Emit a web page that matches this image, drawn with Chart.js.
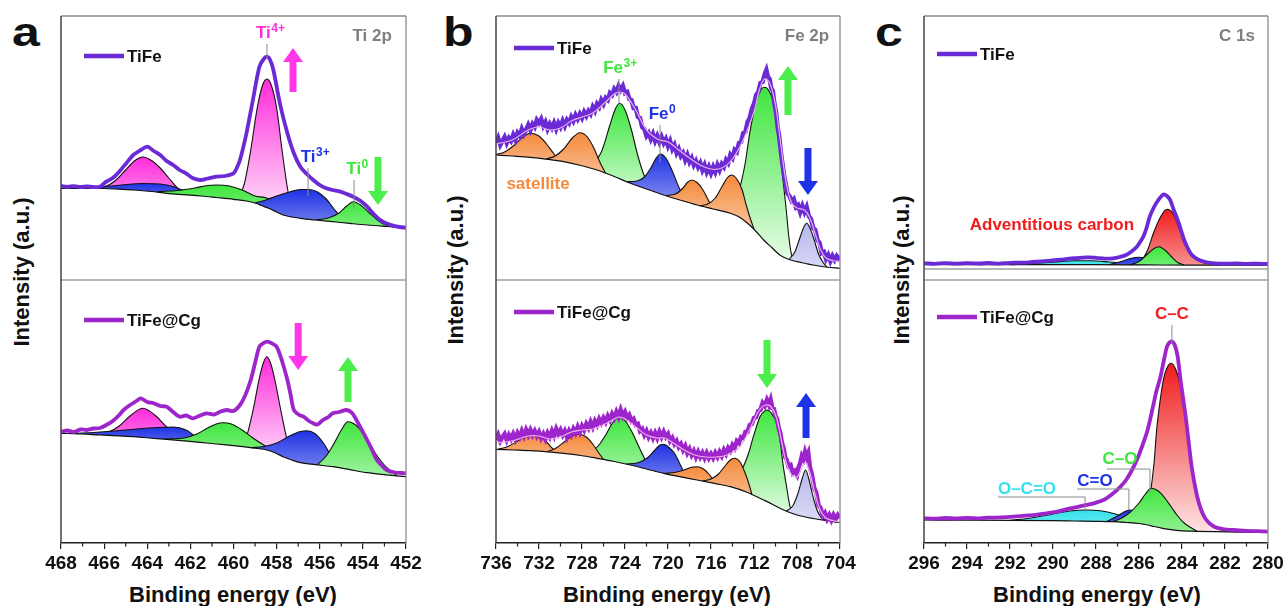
<!DOCTYPE html>
<html>
<head>
<meta charset="utf-8">
<script src="https://cdn.jsdelivr.net/npm/chart.js@4.4.0/dist/chart.umd.min.js"></script>
<style>
  body { margin: 0; width: 1285px; height: 606px; overflow: hidden; background: #fff; position: relative;
         font-family: "Liberation Sans", Arial, sans-serif; }
  canvas { position: absolute; }
  .txt { position: absolute; font-weight: bold; color: #111; white-space: nowrap; line-height: 1; }
  .ytitle { transform: translate(-50%, -50%) rotate(-90deg); font-size: 22px; }
  .xtitle { transform: translateX(-50%); font-size: 22px; }
  .letter { font-size: 40px; transform: scaleX(1.25); transform-origin: left top; }
</style>
</head>
<body>
<div class="txt letter" style="left:12px;top:12px">a</div>
<div class="txt letter" style="left:443px;top:12px">b</div>
<div class="txt letter" style="left:875px;top:12px">c</div>
<div class="txt ytitle" style="left:22px;top:272px">Intensity (a.u.)</div>
<div class="txt ytitle" style="left:456px;top:270px">Intensity (a.u.)</div>
<div class="txt ytitle" style="left:902px;top:270px">Intensity (a.u.)</div>
<div class="txt xtitle" style="left:233px;top:584px">Binding energy (eV)</div>
<div class="txt xtitle" style="left:667px;top:584px">Binding energy (eV)</div>
<div class="txt xtitle" style="left:1097px;top:584px">Binding energy (eV)</div>
<script>
// ---------- Ti 2p, TiFe (a.u.) ----------
const tiTopBg = [[468,91.7],[467,91.7],[466,91.5],[465.3,90.8],[464.6,90],[463.8,88.5],[463.1,86.7],[462.3,85.3],[461.5,84],[460.8,82.5],[460,80.7],[459.4,79],[459,77],[458.7,74.5],[458.4,72],[458,68],[457.7,65],[457.3,63],[456.9,61.7],[456.2,60],[455.4,58.3],[454.6,56.6],[453.8,55],[452.9,53.6],[452,52.3]];
const tiTopRaw = [[468,94],[467.7,93.2],[467.4,93.8],[467.1,93],[466.8,93.5],[466.5,93],[466.2,93.3],[465.9,98.3],[465.6,102],[465.3,108.3],[465,116],[464.65,125],[464.3,130],[464,133.3],[463.7,129],[463.4,125],[463.1,119],[462.8,115],[462.5,110],[462.2,106.7],[461.9,102],[461.55,100],[461.2,101.5],[460.8,103.3],[460.4,104],[460,106.7],[459.85,112],[459.7,120],[459.4,146.7],[459.1,180],[458.8,213.3],[458.6,221],[458.45,223.3],[458.3,220],[458.15,210],[457.85,176.7],[457.5,146.7],[457.2,126.7],[456.9,113.3],[456.6,106],[456.3,100],[456,95],[455.7,91.7],[455.4,90],[455.05,88.3],[454.75,86],[454.45,83.3],[454.1,79],[453.8,73.3],[453.5,66],[453.2,60],[452.9,56.5],[452.6,54.3],[452.3,53],[452,52.3]];
const tiTopP458 = [[459.8,80],[459.5,96],[459.2,130],[458.9,172],[458.65,195],[458.45,201],[458.25,195],[458,172],[457.75,130],[457.5,92],[457.25,64]];
const tiTopP464 = [[466.6,91.5],[466,93],[465.5,99],[465,110],[464.6,119],[464.2,123],[463.8,119.5],[463.4,112],[463,102],[462.6,92],[462.2,85.3]];
const tiTopP463 = [[467.2,91.7],[466.2,93],[465.2,95],[464.2,96.5],[463.4,96],[462.8,93.5],[462.3,89],[461.9,84.7]];
const tiTopP461 = [[463.5,88.5],[462.6,89.5],[461.8,92],[461.2,94.5],[460.8,95],[460.2,94],[459.6,90],[459,84],[458.45,82],[458,76],[457.6,68],[457.3,63]];
const tiTopP457 = [[459,77],[458.5,80],[458,84],[457.4,88],[456.9,90.5],[456.5,90.5],[456.1,88],[455.7,81],[455.3,70],[454.9,61],[454.5,56.4]];
const tiTopP454 = [[456.2,60],[455.6,62],[455.1,67],[454.75,74],[454.45,78.3],[454.1,75],[453.7,67],[453.3,59.5],[452.9,54.5],[452.5,53]];

// ---------- Ti 2p, TiFe@Cg ----------
const tiBotBg = [[468,109.7],[467,109],[466.2,108],[465.4,107.2],[464.65,106.3],[463.9,105],[463.1,103.7],[462.3,102.2],[461.55,100.7],[460.8,99],[460,97.3],[459.2,95.3],[458.45,93],[458,89.5],[457.7,86.3],[457.3,83],[456.9,80.3],[456.2,78.3],[455.4,76.3],[454.6,73.3],[453.8,70.3],[452.9,68.2],[452,66.3]];
const tiBotRaw = [[468,111.3],[467.7,112.5],[467.4,111],[467.1,113.5],[466.8,113],[466.5,114.5],[466.2,115],[465.9,118],[465.6,122],[465.3,128],[465.1,133],[464.8,138],[464.5,142],[464.3,144.7],[464,141],[463.7,139.7],[463.4,137],[463.1,136.3],[462.8,131],[462.5,126.3],[462.2,127.5],[461.9,124.7],[461.6,127],[461.25,129.7],[460.9,128.5],[460.6,131.5],[460.3,133],[460,132],[459.7,138],[459.45,148],[459.2,163],[459,180],[458.8,196.3],[458.6,200],[458.45,201.3],[458.25,200],[458,196.3],[457.75,182],[457.5,163],[457.35,148],[457.2,133],[456.95,128],[456.75,126.3],[456.5,122],[456.3,119.7],[456.1,118.5],[455.85,123],[455.6,126],[455.4,129.7],[455.1,131],[454.75,133],[454.5,130],[454.3,123],[454.05,113],[453.8,103],[453.55,92],[453.35,83],[453.1,77],[452.9,73],[452.5,70.5],[452.2,70],[452,69.7]];
const tiBotP458 = [[459.7,96],[459.4,106],[459.1,132],[458.8,165],[458.6,181],[458.45,186.3],[458.3,181],[458.1,165],[457.8,132],[457.5,102],[457.2,84]];
const tiBotP464 = [[466.4,108.2],[465.8,111],[465.3,117],[464.8,127],[464.2,134.7],[463.6,127],[463.1,116],[462.6,106],[462.2,102]];
const tiBotP463 = [[467.6,109.5],[466.5,110.5],[465.5,112],[464.5,114],[463.5,115.5],[462.8,116],[462.2,113],[461.8,107],[461.4,100.5]];
const tiBotP461 = [[463.2,104],[462.3,105],[461.7,109],[461.2,115],[460.8,119],[460.5,120.3],[460.1,119],[459.6,113],[459.1,105],[458.6,98],[458.1,91],[457.7,86.5]];
const tiBotP457 = [[459.2,95.3],[458.6,96.5],[458,100],[457.4,107],[456.9,111.5],[456.6,112.3],[456.2,109],[455.8,99],[455.5,88],[455.2,80],[454.9,74.5]];
const tiBotP454 = [[456.1,78.5],[455.7,87],[455.3,101],[455,113],[454.7,121.3],[454.4,119],[454,110],[453.6,96],[453.2,83],[452.8,73.5],[452.4,67.2]];

// ---------- Fe 2p, TiFe ----------
const feTopBg = [[736,125],[734.5,124],[732.8,122.7],[731.2,120.7],[729.7,118.3],[728.1,114.5],[726.6,110],[725,103.5],[723.5,96.7],[722,91],[720.4,85],[718.9,80],[717.3,75],[715.8,71],[714.2,66.7],[713.3,62.5],[712.6,56.7],[711.8,48.5],[711.1,40],[710.3,32],[709.6,25],[708.8,20.8],[708,18.3],[707.2,16.5],[706.5,15],[705.3,13],[704,11.7]];
const feTopRaw = [[736,136.7],[735.8,142],[735.6,135],[735.4,139],[735.2,143],[735,137],[734.8,142],[734.6,139],[734.4,145],[734.2,140],[734,147],[733.8,144],[733.6,151],[733.4,146],[733.2,150],[733,155],[732.8,150],[732.6,156],[732.4,153],[732.2,160],[732,157],[731.8,161],[731.6,154],[731.4,158],[731.2,151],[731,156],[730.8,152],[730.6,157],[730.4,151],[730.2,157],[730,153],[729.8,159],[729.6,154],[729.4,160],[729.2,157],[729,163],[728.8,159],[728.6,165],[728.4,161],[728.2,166],[728,162],[727.8,168],[727.6,164],[727.4,169],[727.2,166],[727,173],[726.8,169],[726.6,176],[726.4,173],[726.2,180],[726,176],[725.8,182],[725.6,180],[725.4,187],[725.2,185],[725,191],[724.8,188],[724.6,194],[724.4,190],[724.2,194],[724,187],[723.8,188],[723.6,181],[723.4,180],[723.2,172],[723,172],[722.8,163],[722.6,162],[722.4,153],[722.2,151],[722,144],[721.8,147],[721.6,141],[721.4,146],[721.2,139],[721,144],[720.8,138],[720.6,143],[720.4,137],[720.2,141],[720,134],[719.8,139],[719.6,131],[719.4,135],[719.2,127],[719,131],[718.8,124],[718.6,127],[718.4,120],[718.2,125],[718,118],[717.8,122],[717.6,115],[717.4,119],[717.2,113],[717,117],[716.8,110],[716.6,115],[716.4,108],[716.2,113],[716,107],[715.8,113],[715.6,108],[715.4,115],[715.2,110],[715,116],[714.8,113],[714.6,120],[714.4,117],[714.2,125],[714,122],[713.8,130],[713.6,128],[713.4,137],[713.2,138],[713,147],[712.8,148],[712.6,158],[712.4,162],[712.2,171],[712,176],[711.8,185],[711.6,188],[711.4,197],[711.2,198],[711,206],[710.85,210],[710.7,203],[710.55,201],[710.4,192],[710.25,189],[710.1,176],[709.95,168],[709.8,153],[709.65,143],[709.5,128],[709.35,116],[709.2,104],[709.05,96],[708.9,87],[708.7,84],[708.5,79],[708.3,81],[708.1,73],[707.9,75],[707.7,68],[707.5,74],[707.3,68],[707.1,73],[706.9,64],[706.7,61],[706.5,52],[706.3,50],[706.1,40],[705.9,37],[705.7,27],[705.5,28],[705.3,21],[705.1,25],[704.9,19],[704.7,24],[704.5,20],[704.3,24],[704,20]];
const feTopEnv = [[736,136],[734.5,140],[733,150],[732,153],[731,150],[730,152],[729,159],[728,163],[727,167],[726,176],[725,186],[724.5,188],[724,186],[723,170],[722,150],[721,141],[720,138],[719,130],[718,122],[717,115],[716,111],[715,112],[714,121],[713,140],[712,168],[711.5,190],[711,201],[710.5,196],[710,175],[709.5,135],[709,97],[708.5,77],[708,72],[707.3,70],[706.8,62],[706.3,46],[705.8,30],[705.3,22],[704.5,19],[704,18]];
const feTopP711 = [[715.6,70.5],[714.6,71],[713.8,78],[713.3,93],[712.8,118],[712.4,146.7],[711.75,180],[711.3,191],[711,192.7],[710.6,189],[710.2,178],[709.9,160],[709.6,130],[709.3,100],[709,70],[708.75,42],[708.5,25],[708.2,18.9]];
const feTopP724 = [[727.6,113],[726.9,117],[726.2,128],[725.4,155],[724.9,171],[724.5,176.7],[724,170],[723.4,150],[722.8,124],[722.2,104],[721.6,92],[721.2,88]];
const feTopP733 = [[736,125.5],[735.2,128],[734.4,134],[733.6,142],[732.8,146.7],[732,144],[731.3,136],[730.6,126],[730,118.8]];
const feTopP728 = [[731.3,121],[730.5,124],[729.7,131],[728.9,142],[728.2,147.3],[727.5,143],[726.9,132],[726.3,117],[725.8,106.7]];
const feTopP721 = [[723.8,98.3],[722.9,99],[722.2,103],[721.6,112],[721.1,122],[720.7,126],[720.2,122],[719.6,109],[719,93],[718.5,83],[718.1,77.5]];
const feTopP718 = [[720.2,84.5],[719.3,86],[718.6,92],[718.2,97.5],[717.8,100],[717.3,97.5],[716.8,91],[716.3,81],[715.9,73],[715.5,70.2]];
const feTopP714 = [[717,74.3],[716.3,76],[715.6,82],[715,93],[714.5,102],[714.1,105],[713.6,101],[713.1,90],[712.7,74],[712.3,60],[712,51]];
const feTopP707 = [[708.7,21],[708.2,28],[707.8,40],[707.4,52],[707.1,56.7],[706.8,52],[706.4,40],[706,26],[705.6,18],[705.2,12.9]];

// ---------- Fe 2p, TiFe@Cg ----------
const feBotBg = [[736,93.7],[734.4,93],[732.8,92.3],[731.2,91.2],[729.7,89.7],[728.1,87.5],[726.6,84.7],[725,81.5],[723.5,78],[722,74],[720.4,69.7],[718.9,66.3],[717.3,63],[715.8,59.8],[714.2,56.3],[712.6,50.5],[711.1,43],[710.3,38.8],[709.6,34.7],[708.8,31],[708,28],[706.5,24.5],[705,22],[704,20.3]];
const feBotRaw = [[736,103],[735.8,108],[735.6,102],[735.4,106],[735.2,109],[735,103],[734.8,108],[734.6,104],[734.4,109],[734.2,104],[734,110],[733.8,106],[733.6,112],[733.4,107],[733.2,113],[733,108],[732.8,113],[732.6,108],[732.4,112],[732.2,107],[732,111],[731.8,105],[731.6,109],[731.4,104],[731.2,110],[731,106],[730.8,112],[730.6,107],[730.4,114],[730.2,109],[730,113],[729.8,108],[729.6,112],[729.4,106],[729.2,112],[729,108],[728.8,114],[728.6,110],[728.4,116],[728.2,111],[728,117],[727.8,113],[727.6,119],[727.4,115],[727.2,121],[727,116],[726.8,122],[726.6,118],[726.4,124],[726.2,120],[726,125],[725.8,121],[725.6,127],[725.4,123],[725.2,129],[725,125],[724.8,131],[724.6,126],[724.4,133],[724.2,127],[724,131],[723.8,125],[723.6,128],[723.4,122],[723.2,124],[723,118],[722.8,119],[722.6,112],[722.4,114],[722.2,108],[722,112],[721.8,106],[721.6,110],[721.4,105],[721.2,110],[721,105],[720.8,111],[720.6,106],[720.4,111],[720.2,106],[720,109],[719.8,102],[719.6,105],[719.4,99],[719.2,102],[719,96],[718.8,99],[718.6,93],[718.4,97],[718.2,90],[718,94],[717.8,88],[717.6,92],[717.4,86],[717.2,91],[717,86],[716.8,90],[716.6,85],[716.4,90],[716.2,85],[716,89],[715.8,85],[715.6,90],[715.4,86],[715.2,91],[715,87],[714.8,93],[714.6,89],[714.4,95],[714.2,92],[714,98],[713.8,95],[713.6,102],[713.4,100],[713.2,106],[713,105],[712.8,111],[712.6,111],[712.4,118],[712.2,119],[712,125],[711.8,126],[711.6,132],[711.4,133],[711.2,140],[711,137],[710.8,143],[710.6,138],[710.45,143],[710.3,135],[710.15,134],[710,127],[709.85,124],[709.7,115],[709.55,110],[709.4,100],[709.25,95],[709.1,86],[708.95,83],[708.8,77],[708.6,78],[708.4,70],[708.2,72],[708,68],[707.85,76],[707.7,80],[707.55,87],[707.4,84],[707.25,91],[707.1,86],[706.95,90],[706.8,76],[706.6,68],[706.4,55],[706.2,50],[706,38],[705.8,35],[705.6,27],[705.4,30],[705.2,24],[705,28],[704.8,23],[704.6,28],[704.4,24],[704.2,28],[704,25]];
const feBotEnv = [[736,100],[734.5,102],[733,107],[732,107],[731,104],[730,106],[729,111],[728,113],[727,114],[726,118],[725,124],[724.5,126],[724,124],[723,116],[722,108],[721,105],[720.3,105],[719.5,100],[718.5,93],[717.5,88],[716.5,86],[715.5,86],[714.5,88],[713.5,94],[713,101],[712.2,118],[711.5,133],[710.9,138],[710.4,136],[709.9,125],[709.4,100],[709,80],[708.5,68],[708,66],[707.5,76],[707.2,80],[706.8,70],[706.3,48],[705.8,32],[705.3,25],[704.5,22],[704,21]];
const feBotP711 = [[715.4,59],[714.5,60],[713.8,65],[713,76.3],[712.5,90],[712.06,106.3],[711.44,126.3],[711,132],[710.75,133],[710.4,130],[709.9,119.7],[709.6,104],[709.27,76.3],[708.95,55],[708.65,36.3],[708.3,29]];
const feBotP724 = [[728.3,88],[727.3,90],[726.5,97],[725.8,108],[725.1,121],[724.5,126.3],[723.9,121],[723.3,110],[722.7,96],[722.1,83],[721.5,74],[721.1,71.6]];
const feBotP733 = [[735.8,93.8],[735,96],[734.2,100.5],[733.4,106],[732.7,108.7],[732,107],[731.3,101],[730.7,94],[730.2,90.2]];
const feBotP728 = [[731.2,91.5],[730.4,95],[729.6,101.5],[728.9,107],[728.3,108.7],[727.6,106],[727,99],[726.5,91],[726,83.5]];
const feBotP720 = [[723.9,79],[722.9,80],[722,84.5],[721.3,92],[720.8,97.5],[720.4,98.7],[719.9,95.5],[719.3,88],[718.8,77],[718.4,68.5],[718.1,64.6]];
const feBotP717 = [[720.3,69.6],[719.4,70.5],[718.5,73],[717.8,75.8],[717.3,76.3],[716.7,74],[716.2,69],[715.7,62],[715.3,59]];
const feBotP714 = [[716.8,62],[716,64],[715.3,69],[714.7,77],[714.2,83],[713.8,84.7],[713.3,81],[712.9,72],[712.5,60],[712.2,48.6]];
const feBotP707 = [[709,31.8],[708.4,37],[707.9,50],[707.5,65],[707.2,73],[706.9,64],[706.5,46],[706.1,32],[705.7,25],[705.2,22.3]];

// ---------- C 1s, TiFe ----------
const cTopBg = [[296,15.5],[292,15.4],[289,15.3],[286.5,15.2],[285,15],[283,14.9],[280,14.8]];
const cTopRaw = [[296,16.7],[295.5,16.2],[295,16.9],[294.5,16.3],[294,16.8],[293.4,16.5],[293,17],[292.5,16.4],[292,17.2],[291.5,17.3],[291.1,17.7],[290.6,18.6],[290.1,19.4],[289.5,20.7],[289,21.8],[288.4,22.7],[288,22.2],[287.6,21.4],[287.2,21.7],[286.9,23],[286.6,25],[286.35,28.5],[286.1,33.3],[285.95,38],[285.8,43.3],[285.65,52],[285.5,63.3],[285.3,73],[285.1,80],[284.95,84],[284.85,85.7],[284.7,84],[284.55,80],[284.4,71],[284.2,60],[284.05,50],[283.9,40],[283.75,32.5],[283.6,26.7],[283.4,22.5],[283.2,20],[282.9,18],[282.5,16.7],[282,16.3],[281.5,16.6],[281,16.1],[280.5,16.4],[280,16]];
const cTopOCO = [[292,15.4],[291,16.2],[290,17.8],[289,19.3],[288.2,19.2],[287.4,18],[286.7,16.6],[286,15.2]];
const cTopCdO = [[287.4,15.3],[286.9,18],[286.4,21.5],[286,22.7],[285.6,20.5],[285.3,17],[285,15.1]];
const cTopCC = [[286.3,15.3],[285.9,19],[285.6,30],[285.33,46.7],[285,63],[284.7,70.7],[284.4,66],[284.1,50],[283.8,35],[283.5,25],[283.2,19],[282.8,16.3],[282.3,15]];
const cTopCO = [[286.4,15.2],[286,18.5],[285.6,26],[285.3,31.5],[285.1,33.3],[284.8,30],[284.5,23.5],[284.2,17.5],[283.9,15.2]];

// ---------- C 1s, TiFe@Cg ----------
const cBotBg = [[296,23],[294,22.9],[292,22.7],[290,22.3],[289,22],[288,21.7],[287.2,21.3],[286.6,20.5],[286,19.5],[285.6,18],[285.3,16.5],[284.9,14.7],[284.5,13.3],[284.1,12.3],[283.3,11.7],[282.5,11.3],[281,10.9],[280,10.7]];
const cBotRaw = [[296,24.7],[295.5,24.3],[295,25],[294.5,24.5],[294,25.1],[293.4,24.7],[293,25.3],[292.4,25.6],[291.85,26.3],[291.3,27.3],[290.8,28.1],[290.3,29.7],[289.8,31.4],[289.2,34.7],[288.6,37.3],[288.1,39.7],[287.6,43.5],[287.2,49.7],[286.9,55.5],[286.6,63],[286.35,72],[286.1,83],[285.85,97],[285.6,113],[285.35,136.3],[285.2,151],[285,166.3],[284.85,182],[284.7,196.3],[284.58,200.5],[284.45,201.3],[284.32,197],[284.2,186.3],[284.05,160],[283.85,129.7],[283.7,103],[283.55,76.3],[283.35,52],[283.16,36.3],[282.9,24],[282.5,16.3],[282.1,14],[281.6,13],[281,12.2],[280.5,11.8],[280,11.3]];
const cBotOCO = [[292,22.7],[291,25],[290,29],[289.2,32],[288.5,33],[287.8,32.3],[287.1,29],[286.4,23.5],[285.8,18.8]];
const cBotCdO = [[287.5,21.4],[287,27],[286.7,31],[286.45,33],[286.1,31],[285.7,25],[285.3,19],[285,15.1]];
const cBotCC = [[286.4,20.2],[285.9,24],[285.6,33],[285.49,46.3],[285.3,80],[285.18,113],[285,145],[284.87,163],[284.7,175],[284.5,179.7],[284.3,174],[284.1,159.7],[283.95,138],[283.78,113],[283.62,87],[283.47,63],[283.3,45],[283.16,33],[282.9,23],[282.7,18],[282.4,14.5],[282.08,12.6],[281.5,11.1]];
const cBotCO = [[287.2,21.3],[286.8,25],[286.4,31],[286,40],[285.7,49],[285.43,54.7],[285.1,52],[284.8,45],[284.5,36],[284.2,27],[283.9,20],[283.6,15.5],[283.3,11.8]];

// ---------- colours ----------
const PINK = '#ff2bdc', BLUE = '#1e32e4', GREEN = '#3ee63e', ORANGE = '#f58a3c', RED = '#f01c1c',
      CYAN = '#34e2ec', LAV = '#b8b8ee', GRAY = '#7f7f7f';
const C_TIFE = '#6a2ad6', C_CG = '#9c26cb';

// ---------- annotations (x in eV, y in a.u.) ----------
const tiTopNotes = [
  {k: 'text', x: 458.3, y: 242, t: 'Ti', s: '4+', c: PINK},
  {k: 'lead', p: [[458.45, 236], [458.45, 222]]},
  {k: 'arrow', x: 457.24, y0: 188, y1: 232, c: '#ff36ea'},
  {k: 'text', x: 453.57, y: 239, t: 'Ti 2p', c: GRAY},
  {k: 'text', x: 456.22, y: 118, t: 'Ti', s: '3+', c: BLUE},
  {k: 'lead', p: [[456.54, 112], [456.54, 84]]},
  {k: 'text', x: 454.27, y: 106, t: 'Ti', s: '0', c: GREEN},
  {k: 'lead', p: [[454.41, 100], [454.41, 72]]},
  {k: 'arrow', x: 453.3, y0: 123, y1: 75, c: '#4cee4c'}
];
const tiBotNotes = [
  {k: 'arrow', x: 457.0, y0: 220, y1: 173, c: '#ff36ea'},
  {k: 'arrow', x: 454.69, y0: 141, y1: 186, c: '#4cee4c'}
];
const feTopNotes = [
  {k: 'text', x: 707.07, y: 239, t: 'Fe 2p', c: GRAY},
  {k: 'text', x: 724.47, y: 207, t: 'Fe', s: '3+', c: GREEN},
  {k: 'lead', p: [[724.56, 201], [724.56, 176]]},
  {k: 'text', x: 720.56, y: 161, t: 'Fe', s: '0', c: BLUE},
  {k: 'lead', p: [[720.74, 155], [720.74, 118]]},
  {k: 'text', x: 732.09, y: 91, t: 'satellite', c: ORANGE},
  {k: 'arrow', x: 708.84, y0: 165, y1: 214, c: '#4cee4c'},
  {k: 'arrow', x: 706.98, y0: 132, y1: 85, c: '#1e32e8'}
];
const feBotNotes = [
  {k: 'arrow', x: 710.79, y0: 203, y1: 155, c: '#4cee4c'},
  {k: 'arrow', x: 707.16, y0: 105, y1: 150, c: '#1e32e8'}
];
const cTopNotes = [
  {k: 'text', x: 281.44, y: 239, t: 'C 1s', c: GRAY},
  {k: 'text', x: 290.05, y: 50, t: 'Adventitious carbon', c: RED}
];
const cBotNotes = [
  {k: 'text', x: 284.47, y: 224, t: 'C\u2013C', c: RED},
  {k: 'lead', p: [[284.47, 218], [284.47, 200]]},
  {k: 'text', x: 286.88, y: 79, t: 'C\u2013O', c: GREEN},
  {k: 'lead', p: [[287.49, 74], [285.49, 74], [285.49, 50]]},
  {k: 'text', x: 288.05, y: 57, t: 'C=O', c: BLUE},
  {k: 'lead', p: [[288.88, 54], [286.47, 54], [286.47, 33]]},
  {k: 'text', x: 291.21, y: 49, t: 'O\u2013C=O', c: CYAN},
  {k: 'lead', p: [[292.56, 46], [288.51, 46], [288.51, 30]]}
];

// ---------- layout ----------
const FONT = '"Liberation Sans", Arial, sans-serif';
const TOP = 16, MID = 280, BOT = 543, PAD = 30, AXIS_H = 63;
const panels = [
  {left: 61, right: 406, min: 452, max: 468, step: 2, minor: 1, legX: 23},
  {left: 496, right: 840, min: 704, max: 736, step: 4, minor: 2, legX: 18},
  {left: 924, right: 1268, min: 280, max: 296, step: 2, minor: 1, legX: 13}
];

const pts = a => a.map(([x, y]) => ({x, y}));

function mix(hex, f) {
  const n = parseInt(hex.slice(1), 16);
  const r = n >> 16, g = (n >> 8) & 255, b = n & 255;
  const m = v => Math.round(v + (255 - v) * f);
  return `rgb(${m(r)},${m(g)},${m(b)})`;
}

function peakFill(hex) {
  return c => {
    const ch = c.chart;
    if (!ch.chartArea) return hex;
    const vals = c.dataset.data.map(p => p.y);
    const y0 = ch.scales.y.getPixelForValue(Math.max(...vals));
    const y1 = ch.scales.y.getPixelForValue(Math.min(...vals));
    const f = Math.min(0.88, 0.15 + (y1 - y0) / 150);
    const g = ch.ctx.createLinearGradient(0, y0, 0, y1 + 1);
    g.addColorStop(0, hex);
    g.addColorStop(1, mix(hex, f));
    return g;
  };
}

function drawLabel(ctx, px, py, t, s, color) {
  const size = 17, ss = 12;
  ctx.fillStyle = color;
  ctx.textBaseline = 'alphabetic';
  ctx.textAlign = 'left';
  ctx.font = `bold ${size}px ${FONT}`;
  const w1 = ctx.measureText(t).width;
  let w2 = 0;
  if (s) { ctx.font = `bold ${ss}px ${FONT}`; w2 = ctx.measureText(s).width; }
  const x0 = px - (w1 + w2) / 2;
  ctx.font = `bold ${size}px ${FONT}`;
  ctx.fillText(t, x0, py);
  if (s) { ctx.font = `bold ${ss}px ${FONT}`; ctx.fillText(s, x0 + w1 + 0.5, py - 6.5); }
}

function drawArrow(ctx, px, py0, py1, color) {
  const dir = Math.sign(py1 - py0), hl = 14, hw = 10, sw = 3.5;
  const base = py1 - dir * hl;
  ctx.fillStyle = color;
  ctx.beginPath();
  ctx.moveTo(px - sw, py0); ctx.lineTo(px + sw, py0); ctx.lineTo(px + sw, base);
  ctx.lineTo(px + hw, base); ctx.lineTo(px, py1); ctx.lineTo(px - hw, base);
  ctx.lineTo(px - sw, base); ctx.closePath(); ctx.fill();
}

function decor(cfg) {
  return {
    id: 'decor',
    afterDraw(chart) {
      const {ctx, chartArea: a, scales: {x, y}} = chart;
      ctx.save();
      // frame
      ctx.lineWidth = 1.3;
      ctx.strokeStyle = '#8c8c8c';
      ctx.beginPath();
      ctx.moveTo(a.right, a.top); ctx.lineTo(a.right, a.bottom);
      if (cfg.isTop) { ctx.moveTo(a.left, a.top); ctx.lineTo(a.right, a.top); }
      ctx.stroke();
      ctx.strokeStyle = '#a0a0a0';
      ctx.beginPath();
      if (cfg.isTop) { ctx.moveTo(a.left, a.bottom); ctx.lineTo(a.right, a.bottom); }
      if (cfg.extraLine) { ctx.moveTo(a.left, a.bottom - cfg.extraLine); ctx.lineTo(a.right, a.bottom - cfg.extraLine); }
      ctx.stroke();
      ctx.strokeStyle = '#444';
      ctx.lineWidth = 1.5;
      ctx.beginPath(); ctx.moveTo(a.left, a.top); ctx.lineTo(a.left, a.bottom); ctx.stroke();
      // minor ticks
      if (!cfg.isTop) {
        ctx.strokeStyle = '#222'; ctx.lineWidth = 1.2;
        ctx.beginPath();
        for (let v = cfg.panel.min + cfg.panel.minor; v < cfg.panel.max; v += cfg.panel.step) {
          const px = x.getPixelForValue(v);
          ctx.moveTo(px, a.bottom); ctx.lineTo(px, a.bottom + 3.5);
        }
        ctx.stroke();
      }
      // notes
      cfg.notes.forEach(n => {
        if (n.k === 'text') drawLabel(ctx, x.getPixelForValue(n.x), y.getPixelForValue(n.y), n.t, n.s, n.c);
        else if (n.k === 'arrow') drawArrow(ctx, x.getPixelForValue(n.x), y.getPixelForValue(n.y0), y.getPixelForValue(n.y1), n.c);
        else if (n.k === 'lead') {
          ctx.strokeStyle = '#8a8a8a'; ctx.lineWidth = 1;
          ctx.beginPath();
          n.p.forEach(([vx, vy], i) => {
            const px = x.getPixelForValue(vx), py = y.getPixelForValue(vy);
            i ? ctx.lineTo(px, py) : ctx.moveTo(px, py);
          });
          ctx.stroke();
        }
      });
      // legend
      const ly = a.top + cfg.legY;
      ctx.strokeStyle = cfg.rawColor; ctx.lineWidth = 4.5;
      ctx.beginPath(); ctx.moveTo(a.left + cfg.panel.legX, ly); ctx.lineTo(a.left + cfg.panel.legX + 40, ly); ctx.stroke();
      ctx.fillStyle = '#111'; ctx.font = `bold 17px ${FONT}`; ctx.textBaseline = 'middle'; ctx.textAlign = 'left';
      ctx.fillText(cfg.label, a.left + cfg.panel.legX + 43, ly + 1);
      ctx.restore();
    }
  };
}

function makeChart(panel, isTop, s) {
  const w = panel.right - panel.left + 2 * PAD;
  const top = isTop ? TOP : MID;
  const plotH = isTop ? MID - TOP : BOT - MID;
  const h = plotH + 4 + (isTop ? 4 : AXIS_H);
  const cv = document.createElement('canvas');
  cv.width = w; cv.height = h;
  cv.style.left = (panel.left - PAD) + 'px';
  cv.style.top = (top - 4) + 'px';
  document.body.appendChild(cv);

  const datasets = [{
    data: pts(s.bg), borderColor: '#111', borderWidth: 1.2, pointRadius: 0, fill: false,
    cubicInterpolationMode: 'monotone', order: 3
  }];
  s.peaks.forEach(([data, col], i) => datasets.push({
    data: pts(data), borderColor: '#111', borderWidth: 1.1, pointRadius: 0, fill: 0,
    backgroundColor: peakFill(col), cubicInterpolationMode: 'monotone', order: 100 - i
  }));
  datasets.push({
    data: pts(s.raw), borderColor: s.rawColor, borderWidth: s.noisy ? 4.5 : 3.8, pointRadius: 0,
    fill: false, tension: s.noisy ? 0 : 0.3, order: 2
  });
  if (s.env) datasets.push({
    data: pts(s.env), borderColor: '#efb0ea', borderWidth: 1.2, pointRadius: 0, fill: false,
    tension: 0.4, order: 1
  });

  new Chart(cv, {
    type: 'line',
    data: {datasets},
    options: {
      responsive: false, animation: false, devicePixelRatio: 1,
      layout: {padding: {left: PAD, right: PAD, top: 4, bottom: isTop ? 4 : 0}},
      plugins: {legend: {display: false}, tooltip: {enabled: false}},
      scales: {
        x: isTop ? {type: 'linear', min: panel.min, max: panel.max, reverse: true, display: false} : {
          type: 'linear', min: panel.min, max: panel.max, reverse: true,
          ticks: {stepSize: panel.step, autoSkip: false, maxRotation: 0, padding: 3, color: '#111',
                  font: {family: FONT, size: 19, weight: 'bold'}},
          grid: {drawOnChartArea: false, drawTicks: true, tickLength: 6, color: '#222', lineWidth: 1.2},
          border: {display: true, color: '#222', width: 1.5},
          afterFit: sc => { sc.height = AXIS_H; }
        },
        y: {type: 'linear', min: 0, max: plotH, display: false}
      }
    },
    plugins: [decor({isTop, panel, notes: s.notes, rawColor: s.rawColor, label: s.label, legY: s.legY, extraLine: s.extraLine})]
  });
}

makeChart(panels[0], true, {bg: tiTopBg, raw: tiTopRaw, rawColor: C_TIFE, label: 'TiFe', legY: 40, notes: tiTopNotes,
  peaks: [[tiTopP458, PINK], [tiTopP464, PINK], [tiTopP463, BLUE], [tiTopP461, GREEN], [tiTopP457, BLUE], [tiTopP454, GREEN]]});
makeChart(panels[0], false, {bg: tiBotBg, raw: tiBotRaw, rawColor: C_CG, label: 'TiFe@Cg', legY: 40, notes: tiBotNotes,
  peaks: [[tiBotP458, PINK], [tiBotP464, PINK], [tiBotP463, BLUE], [tiBotP461, GREEN], [tiBotP457, BLUE], [tiBotP454, GREEN]]});
makeChart(panels[1], true, {bg: feTopBg, raw: feTopRaw, env: feTopEnv, noisy: true, rawColor: C_TIFE, label: 'TiFe', legY: 32, notes: feTopNotes,
  peaks: [[feTopP711, GREEN], [feTopP724, GREEN], [feTopP733, ORANGE], [feTopP728, ORANGE], [feTopP721, BLUE], [feTopP718, ORANGE], [feTopP714, ORANGE], [feTopP707, LAV]]});
makeChart(panels[1], false, {bg: feBotBg, raw: feBotRaw, env: feBotEnv, noisy: true, rawColor: C_CG, label: 'TiFe@Cg', legY: 32, notes: feBotNotes,
  peaks: [[feBotP711, GREEN], [feBotP724, GREEN], [feBotP733, ORANGE], [feBotP728, ORANGE], [feBotP720, BLUE], [feBotP717, ORANGE], [feBotP714, ORANGE], [feBotP707, LAV]]});
makeChart(panels[2], true, {bg: cTopBg, raw: cTopRaw, rawColor: C_TIFE, label: 'TiFe', legY: 38, notes: cTopNotes, extraLine: 11,
  peaks: [[cTopOCO, CYAN], [cTopCdO, BLUE], [cTopCC, RED], [cTopCO, GREEN]]});
makeChart(panels[2], false, {bg: cBotBg, raw: cBotRaw, rawColor: C_CG, label: 'TiFe@Cg', legY: 37, notes: cBotNotes,
  peaks: [[cBotOCO, CYAN], [cBotCdO, BLUE], [cBotCC, RED], [cBotCO, GREEN]]});
</script>
</body>
</html>
